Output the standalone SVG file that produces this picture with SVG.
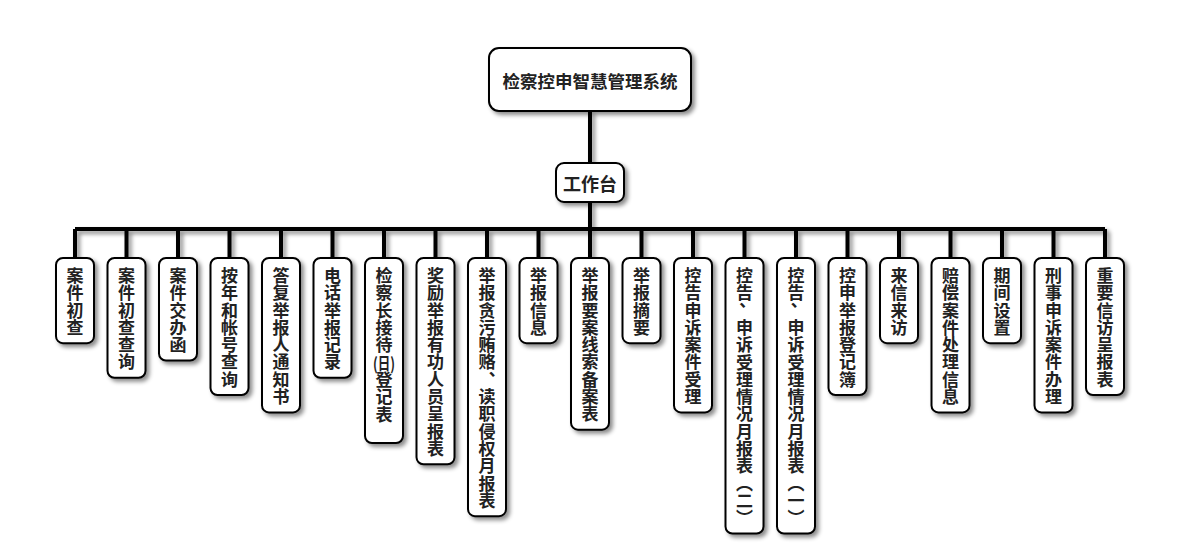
<svg xmlns="http://www.w3.org/2000/svg" width="1180" height="560" viewBox="0 0 1180 560">
<defs>
<filter id="sh" x="-30%" y="-30%" width="160%" height="160%">
<feDropShadow dx="3" dy="3" stdDeviation="2" flood-color="#000" flood-opacity="0.45"/>
</filter>
<style>
.box{fill:#fff;stroke:#000;stroke-width:2;filter:url(#sh)}
.t{font-family:"Noto Sans CJK SC","Noto Sans",sans-serif;font-weight:bold;fill:#222}
.h{text-anchor:middle;dominant-baseline:central}
.v{font-size:17px;writing-mode:vertical-rl;letter-spacing:0.3px}
.conn{fill:none;stroke:#000;stroke-width:4;filter:url(#sh)}
</style>
</defs>
<rect width="1180" height="560" fill="#fff"/>
<g id="connectors">
<path class="conn" d="M590 111V163M590 202V229M75 229H1105M75 229V258M126.5 229V258M178 229V258M229.5 229V258M281 229V258M332.5 229V258M384 229V258M435.5 229V258M487 229V258M538.5 229V258M590 229V258M641.5 229V258M693 229V258M744.5 229V258M796 229V258M847.5 229V258M899 229V258M950.5 229V258M1002 229V258M1053.5 229V258M1105 229V258"/>
</g>
<g id="root">
<rect class="box" x="489" y="48" width="202" height="63" rx="10"/>
<text class="t h" x="590" y="80.5" font-size="17.5">检察控申智慧管理系统</text>
</g>
<g id="workbench">
<rect class="box" x="556" y="163" width="68" height="39" rx="8"/>
<text class="t h" x="590" y="183" font-size="18">工作台</text>
</g>
<g id="n0">
<rect class="box" x="56" y="258" width="38" height="85.2" rx="7"/>
<text class="t v" x="75" y="267">案件初查</text>
</g>
<g id="n1">
<rect class="box" x="107.5" y="258" width="38" height="119.8" rx="7"/>
<text class="t v" x="126.5" y="267">案件初查查询</text>
</g>
<g id="n2">
<rect class="box" x="159" y="258" width="38" height="102.5" rx="7"/>
<text class="t v" x="178" y="267">案件交办函</text>
</g>
<g id="n3">
<rect class="box" x="210.5" y="258" width="38" height="137.1" rx="7"/>
<text class="t v" x="229.5" y="267">按年和帐号查询</text>
</g>
<g id="n4">
<rect class="box" x="262" y="258" width="38" height="154.4" rx="7"/>
<text class="t v" x="281" y="267">答复举报人通知书</text>
</g>
<g id="n5">
<rect class="box" x="313.5" y="258" width="38" height="119.8" rx="7"/>
<text class="t v" x="332.5" y="267">电话举报记录</text>
</g>
<g id="n6">
<rect class="box" x="365" y="258" width="38" height="185" rx="7"/>
<text class="t v" x="384" y="267">检察长接待</text>
<text class="t h" x="384" y="362" font-size="17" textLength="22" lengthAdjust="spacingAndGlyphs">(日)</text>
<text class="t v" x="384" y="371">登记表</text>
</g>
<g id="n7">
<rect class="box" x="416.5" y="258" width="38" height="206.3" rx="7"/>
<text class="t v" x="435.5" y="267">奖励举报有功人员呈报表</text>
</g>
<g id="n8">
<rect class="box" x="468" y="258" width="38" height="258.2" rx="7"/>
<text class="t v" x="487" y="267">举报贪污贿赂、读职侵权月报表</text>
</g>
<g id="n9">
<rect class="box" x="519.5" y="258" width="38" height="85.2" rx="7"/>
<text class="t v" x="538.5" y="267">举报信息</text>
</g>
<g id="n10">
<rect class="box" x="571" y="258" width="38" height="171.7" rx="7"/>
<text class="t v" x="590" y="267">举报要案线索备案表</text>
</g>
<g id="n11">
<rect class="box" x="622.5" y="258" width="38" height="85.2" rx="7"/>
<text class="t v" x="641.5" y="267">举报摘要</text>
</g>
<g id="n12">
<rect class="box" x="674" y="258" width="38" height="154.4" rx="7"/>
<text class="t v" x="693" y="267">控告申诉案件受理</text>
</g>
<g id="n13">
<rect class="box" x="725.5" y="258" width="38" height="275.5" rx="7"/>
<text class="t v" x="744.5" y="267">控告<tspan dx="-7">、</tspan><tspan dx="7">申诉受理情况月报表（二）</tspan></text>
</g>
<g id="n14">
<rect class="box" x="777" y="258" width="38" height="275.5" rx="7"/>
<text class="t v" x="796" y="267">控告<tspan dx="-7">、</tspan><tspan dx="7">申诉受理情况月报表（一）</tspan></text>
</g>
<g id="n15">
<rect class="box" x="828.5" y="258" width="38" height="137.1" rx="7"/>
<text class="t v" x="847.5" y="267">控申举报登记簿</text>
</g>
<g id="n16">
<rect class="box" x="880" y="258" width="38" height="85.2" rx="7"/>
<text class="t v" x="899" y="267">来信来访</text>
</g>
<g id="n17">
<rect class="box" x="931.5" y="258" width="38" height="154.4" rx="7"/>
<text class="t v" x="950.5" y="267">赔偿案件处理信息</text>
</g>
<g id="n18">
<rect class="box" x="983" y="258" width="38" height="85.2" rx="7"/>
<text class="t v" x="1002" y="267">期间设置</text>
</g>
<g id="n19">
<rect class="box" x="1034.5" y="258" width="38" height="154.4" rx="7"/>
<text class="t v" x="1053.5" y="267">刑事申诉案件办理</text>
</g>
<g id="n20">
<rect class="box" x="1086" y="258" width="38" height="137.1" rx="7"/>
<text class="t v" x="1105" y="267">重要信访呈报表</text>
</g>
</svg>
